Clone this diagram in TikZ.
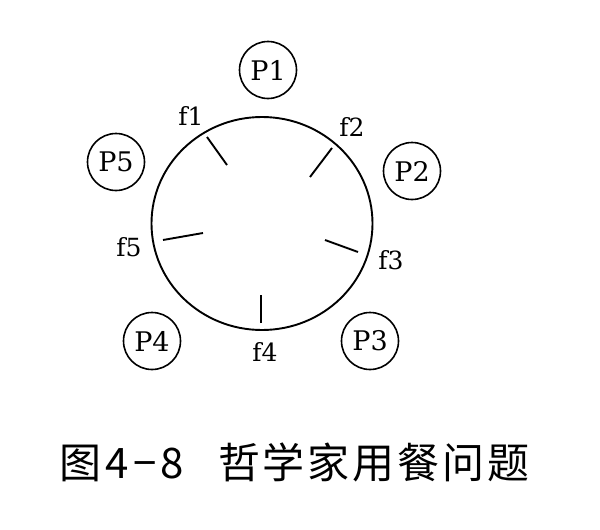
\documentclass[tikz,border=0pt]{standalone}
\usepackage{fontspec}
\setmainfont{DejaVu Serif}
\newfontfamily\cjk{Noto Sans CJK SC}
\usetikzlibrary{shapes.geometric}
\begin{document}
\begin{tikzpicture}[x=1pt,y=-1pt,
  phil/.style={circle,draw,line width=1.6pt,minimum size=57pt,inner sep=0pt,font=\fontsize{27}{27}\selectfont},
  fork/.style={inner sep=0pt,font=\fontsize{25}{25}\selectfont},
  forktick/.style={line width=1.9pt},
  captxt/.style={inner sep=0pt,anchor=base,font=\cjk\fontsize{42}{42}\selectfont}]
\useasboundingbox[fill=white] (0,0) rectangle (600,530);
\node[ellipse,draw,line width=1.9pt,minimum width=221pt,minimum height=213pt,inner sep=0pt] (table) at (262,223.5) {};
\node[phil] (p1) at (268,70) {P1};
\node[phil] (p2) at (412,171) {P2};
\node[phil] (p3) at (370,341) {P3};
\node[phil] (p4) at (152,341) {P4};
\node[phil] (p5) at (116,162) {P5};
\node[fork] (f1) at (191,116) {f1};
\node[fork] (f2) at (352,127) {f2};
\node[fork] (f3) at (391,260) {f3};
\node[fork] (f4) at (265,352) {f4};
\node[fork] (f5) at (129,247) {f5};
\coordinate (a1) at (207,137); \coordinate (b1) at (227,165);
\coordinate (a2) at (332,148); \coordinate (b2) at (310,177);
\coordinate (a3) at (358,252); \coordinate (b3) at (325,240);
\coordinate (a4) at (261,323); \coordinate (b4) at (261,295);
\coordinate (a5) at (163,240); \coordinate (b5) at (203,233);
\draw[forktick] (a1) -- (b1);
\draw[forktick] (a2) -- (b2);
\draw[forktick] (a3) -- (b3);
\draw[forktick] (a4) -- (b4);
\draw[forktick] (a5) -- (b5);
\node[captxt] (c1) at (80,478) {图};
\node[captxt] (c2) at (117,478) {4};
\node[captxt] (c3) at (145,478) {−};
\node[captxt] (c4) at (172,478) {8};
\node[captxt] (c5) at (374,478) {哲\hspace{3pt}学\hspace{3pt}家\hspace{3pt}用\hspace{3pt}餐\hspace{3pt}问\hspace{3pt}题};
\end{tikzpicture}
\end{document}
